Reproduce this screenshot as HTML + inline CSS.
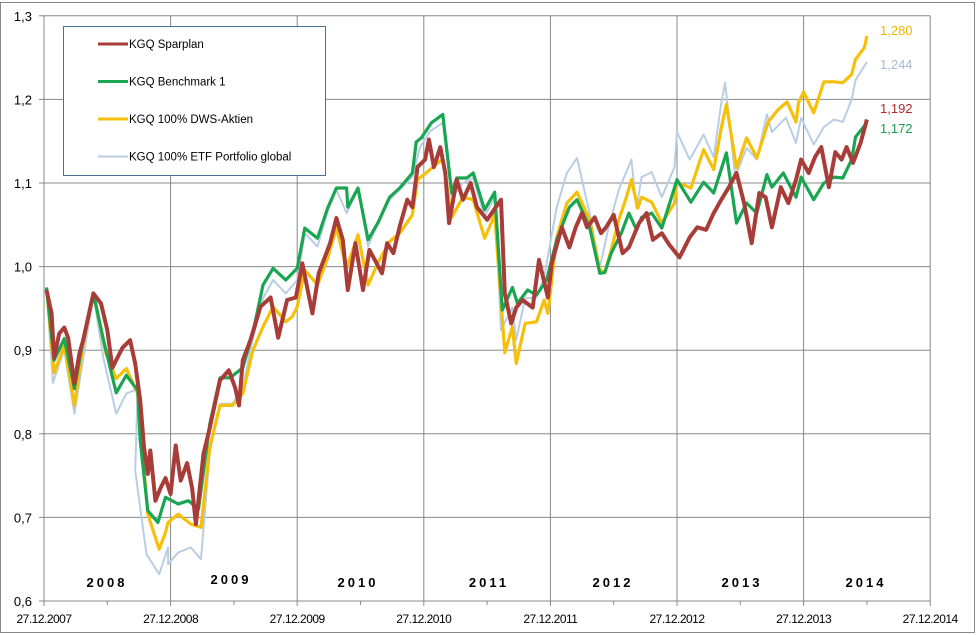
<!DOCTYPE html>
<html><head><meta charset="utf-8"><style>
html,body{margin:0;padding:0;background:#fff;}
svg{display:block;font-family:"Liberation Sans",sans-serif;}
</style></head><body>
<svg id="c" width="976" height="635" xmlns="http://www.w3.org/2000/svg"></svg>
<script>
const xTickLabels=["27.12.2007","27.12.2008","27.12.2009","27.12.2010","27.12.2011","27.12.2012","27.12.2013","27.12.2014"];
const yTickValues=[0.6,0.7,0.8,0.9,1.0,1.1,1.2,1.3];
const yearLabels=["2008","2009","2010","2011","2012","2013","2014"];
const endLabels=["1,280","1,244","1,192","1,172"];
const endValues=[1.280,1.244,1.192,1.172];

const greenT=[0.02,0.08,0.16,0.24,0.31,0.39,0.47,0.57,0.65,0.74,0.76,0.82,0.90,0.96,1.06,1.14,1.22,1.31,1.39,1.47,1.57,1.65,1.73,1.81,1.91,2.00,2.06,2.16,2.24,2.31,2.39,2.40,2.48,2.56,2.64,2.73,2.81,2.91,2.94,2.98,3.06,3.15,3.22,3.26,3.34,3.39,3.48,3.56,3.62,3.70,3.74,3.82,3.89,3.97,4.05,4.15,4.21,4.31,4.39,4.43,4.48,4.56,4.62,4.68,4.72,4.80,4.88,5.00,5.11,5.21,5.29,5.39,5.47,5.55,5.63,5.71,5.75,5.84,5.94,5.98,6.08,6.16,6.24,6.31,6.38,6.41,6.50];
const greenV=[0.975,0.888,0.914,0.854,0.914,0.968,0.912,0.849,0.870,0.852,0.792,0.708,0.694,0.724,0.716,0.72,0.71,0.812,0.867,0.867,0.879,0.921,0.978,0.998,0.984,0.998,1.046,1.034,1.070,1.094,1.094,1.071,1.094,1.032,1.053,1.083,1.094,1.112,1.149,1.154,1.172,1.182,1.088,1.106,1.106,1.112,1.068,1.089,0.948,0.975,0.956,0.972,0.966,0.984,1.032,1.071,1.08,1.047,0.992,0.993,1.016,1.04,1.064,1.044,1.059,1.064,1.046,1.104,1.077,1.101,1.088,1.136,1.052,1.076,1.064,1.11,1.095,1.112,1.083,1.107,1.08,1.1,1.107,1.106,1.128,1.155,1.172];

const yellowT=[0.02,0.08,0.16,0.24,0.31,0.39,0.49,0.57,0.65,0.74,0.82,0.91,0.96,0.98,1.06,1.16,1.24,1.31,1.39,1.49,1.57,1.65,1.73,1.81,1.91,1.96,2.00,2.06,2.16,2.24,2.31,2.39,2.48,2.56,2.64,2.73,2.81,2.91,2.95,3.05,3.15,3.22,3.31,3.39,3.48,3.56,3.64,3.70,3.73,3.80,3.89,3.95,3.98,4.05,4.13,4.21,4.31,4.39,4.43,4.48,4.54,4.60,4.64,4.69,4.72,4.80,4.88,4.98,5.00,5.11,5.21,5.29,5.35,5.39,5.47,5.55,5.63,5.72,5.80,5.87,5.94,5.96,6.00,6.08,6.16,6.24,6.31,6.38,6.41,6.48,6.50];
const yellowV=[0.975,0.873,0.906,0.834,0.908,0.968,0.896,0.866,0.878,0.848,0.704,0.662,0.682,0.694,0.704,0.692,0.688,0.784,0.834,0.834,0.848,0.9,0.928,0.952,0.934,0.94,0.952,0.996,0.978,1.01,1.046,0.998,1.038,0.978,1.005,1.03,1.04,1.062,1.104,1.116,1.129,1.059,1.083,1.08,1.034,1.062,0.897,0.928,0.884,0.932,0.934,0.96,0.944,1.035,1.076,1.089,1.056,0.996,0.993,1.02,1.056,1.083,1.104,1.07,1.083,1.077,1.052,1.076,1.101,1.094,1.14,1.116,1.166,1.194,1.118,1.154,1.13,1.173,1.188,1.197,1.173,1.196,1.209,1.184,1.221,1.221,1.22,1.23,1.248,1.262,1.276];

const blueT=[0.02,0.07,0.16,0.24,0.39,0.47,0.57,0.65,0.74,0.72,0.81,0.91,0.98,0.98,1.06,1.16,1.24,1.31,1.39,1.49,1.57,1.65,1.73,1.81,1.91,2.00,2.06,2.16,2.24,2.31,2.39,2.48,2.56,2.64,2.73,2.91,2.97,3.05,3.15,3.22,3.31,3.39,3.48,3.56,3.61,3.70,3.73,3.80,3.89,3.95,4.05,4.13,4.21,4.31,4.39,4.46,4.54,4.64,4.68,4.72,4.80,4.88,4.98,5.00,5.10,5.21,5.29,5.35,5.38,5.46,5.55,5.63,5.71,5.75,5.86,5.94,5.98,6.08,6.16,6.24,6.31,6.38,6.41,6.50];
const blueV=[0.975,0.861,0.9,0.824,0.966,0.89,0.824,0.848,0.854,0.756,0.656,0.632,0.664,0.644,0.658,0.664,0.65,0.778,0.836,0.836,0.855,0.914,0.962,0.984,0.968,0.984,1.04,1.024,1.066,1.092,1.064,1.092,1.024,1.053,1.08,1.107,1.143,1.162,1.172,1.082,1.1,1.106,1.06,1.083,0.924,0.951,0.912,0.962,0.963,0.987,1.071,1.112,1.13,1.064,0.999,1.047,1.092,1.128,1.07,1.107,1.113,1.083,1.119,1.161,1.128,1.158,1.131,1.196,1.22,1.107,1.142,1.128,1.182,1.161,1.178,1.148,1.178,1.146,1.167,1.176,1.173,1.2,1.223,1.245];

const redT=[0.02,0.06,0.08,0.12,0.16,0.19,0.24,0.28,0.31,0.39,0.45,0.50,0.54,0.58,0.62,0.68,0.72,0.76,0.79,0.82,0.84,0.88,0.92,0.96,1.00,1.04,1.08,1.13,1.17,1.20,1.26,1.31,1.35,1.39,1.46,1.51,1.54,1.57,1.63,1.71,1.79,1.85,1.92,1.99,2.04,2.12,2.17,2.26,2.31,2.36,2.40,2.46,2.52,2.57,2.67,2.71,2.76,2.81,2.87,2.91,2.95,3.01,3.04,3.08,3.13,3.17,3.20,3.26,3.31,3.37,3.42,3.50,3.61,3.64,3.69,3.73,3.78,3.86,3.91,3.98,4.01,4.09,4.15,4.20,4.25,4.29,4.35,4.40,4.44,4.50,4.57,4.62,4.70,4.76,4.81,4.88,4.94,5.02,5.10,5.16,5.23,5.29,5.35,5.41,5.47,5.53,5.59,5.65,5.70,5.75,5.82,5.88,5.94,5.98,6.04,6.09,6.14,6.20,6.25,6.30,6.34,6.39,6.45,6.50];
const redV=[0.972,0.944,0.891,0.92,0.927,0.915,0.86,0.896,0.912,0.968,0.956,0.924,0.879,0.891,0.903,0.912,0.884,0.84,0.784,0.752,0.78,0.72,0.735,0.747,0.728,0.786,0.744,0.765,0.735,0.692,0.776,0.807,0.836,0.864,0.876,0.855,0.834,0.888,0.912,0.952,0.963,0.915,0.96,0.963,1.004,0.944,0.992,1.028,1.058,1.032,0.972,1.028,0.972,1.02,0.992,1.028,1.016,1.048,1.08,1.071,1.119,1.128,1.152,1.119,1.143,1.112,1.052,1.104,1.08,1.1,1.071,1.056,1.08,0.968,0.932,0.951,0.96,0.951,1.008,0.963,1.004,1.047,1.023,1.047,1.064,1.047,1.059,1.04,1.047,1.062,1.016,1.023,1.052,1.064,1.032,1.04,1.026,1.011,1.035,1.047,1.044,1.064,1.08,1.095,1.112,1.076,1.028,1.088,1.083,1.047,1.095,1.076,1.104,1.128,1.112,1.131,1.143,1.095,1.137,1.128,1.143,1.124,1.148,1.176,1.196,1.191];

const NS="http://www.w3.org/2000/svg";
const svg=document.getElementById('c');
const X0=44, YW=126.6, YB=601, YPX=836;
function xs(t){return X0+t*YW;}
function ys(v){return YB-(v-0.6)*YPX;}
function mk(tag,attrs,parent){const e=document.createElementNS(NS,tag);for(const k in attrs)e.setAttribute(k,attrs[k]);(parent||svg).appendChild(e);return e;}

let frame=mk('rect',{x:0.5,y:2.5,width:974,height:630,fill:'#fff',stroke:'#868686'});



const grid=mk('g',{});


yTickValues.forEach(v=>{
  if(v>0.6){let l=mk('line',{x1:X0,x2:xs(7),y1:ys(v),y2:ys(v),stroke:'#888','stroke-width':1},grid);
  
  }
  let tl=mk('text',{x:32,y:ys(v)+5,'text-anchor':'end','font-size':13,fill:'#000'});
  tl.textContent=String(v.toFixed(1)).replace('.',',');
  
  
  let tk=mk('line',{x1:X0-5,x2:X0,y1:ys(v),y2:ys(v),stroke:'#888'});
  
  
});
xTickLabels.forEach((lab,i)=>{
  if(i>0){let l=mk('line',{x1:xs(i),x2:xs(i),y1:ys(1.3),y2:ys(0.6),stroke:'#888'},grid);
  
  }
  let tk=mk('line',{x1:xs(i),x2:xs(i),y1:YB,y2:YB+5,stroke:'#888'});
  
  
  if(i<7){let tk2=mk('line',{x1:xs(i+0.5),x2:xs(i+0.5),y1:YB,y2:YB+4,stroke:'#888'});
  
  }
  let t=mk('text',{x:xs(i),y:623,'text-anchor':'middle','font-size':12,fill:'#000','letter-spacing':'-0.5'});
  t.textContent=lab;
  
  
});
let ax=mk('line',{x1:X0,x2:X0,y1:ys(1.3),y2:YB,stroke:'#888'});


let ax2=mk('line',{x1:X0,x2:xs(7),y1:YB,y2:YB,stroke:'#888'});



function series(T,V,color,w,name){
  const d=T.map((t,i)=>(i?'L':'M')+xs(t).toFixed(1)+','+ys(V[i]).toFixed(1)).join('');
  const p=mk('path',{d:d,fill:'none',stroke:color,'stroke-width':w,'stroke-linejoin':'round'});
  
  
  return p;
}
series(blueT,blueV,'#b9cde5',2,'series-etf-portfolio');
series(yellowT,yellowV,'#f6c00a',3.2,'series-dws-aktien');
series(greenT,greenV,'#1aa552',3.2,'series-benchmark');
series(redT,redV,'#a83c38',4,'series-sparplan');

const yx=[107,231,358,489,613,742,866],yy=[587,584,587,587,587,587,587];
yearLabels.forEach((y,i)=>{
  let t=mk('text',{x:yx[i],y:yy[i],'text-anchor':'middle','font-size':13,'font-weight':'bold','letter-spacing':'3',fill:'#000'});
  t.textContent=y;
  
  
});

const endColors=['#f2b700','#a6bad6','#b0282c','#1c9a50'];
const endY=[35,69,113,133];
endLabels.forEach((l,i)=>{
  let t=mk('text',{x:880,y:endY[i],'font-size':13,fill:endColors[i]});
  t.textContent=l;
  
  
});

const lg=mk('g',{});


mk('rect',{x:63.5,y:26.5,width:262,height:149,fill:'#fff',stroke:'#4a6e94'},lg);
const legNames=['KGQ Sparplan','KGQ Benchmark 1','KGQ 100% DWS-Aktien','KGQ 100% ETF Portfolio global'];
const legCols=['#a83c38','#1aa552','#f6c00a','#b9cde5'];
legNames.forEach((n,i)=>{
  const y=44+i*37.5;
  const e=mk('g',{},lg);
  
  
  mk('line',{x1:98,x2:128,y1:y,y2:y,stroke:legCols[i],'stroke-width':i==3?2:3},e);
  const t=mk('text',{x:129,y:y+4,'font-size':11.5,fill:'#000'},e);
  t.textContent=n;
});
</script>
</body></html>
